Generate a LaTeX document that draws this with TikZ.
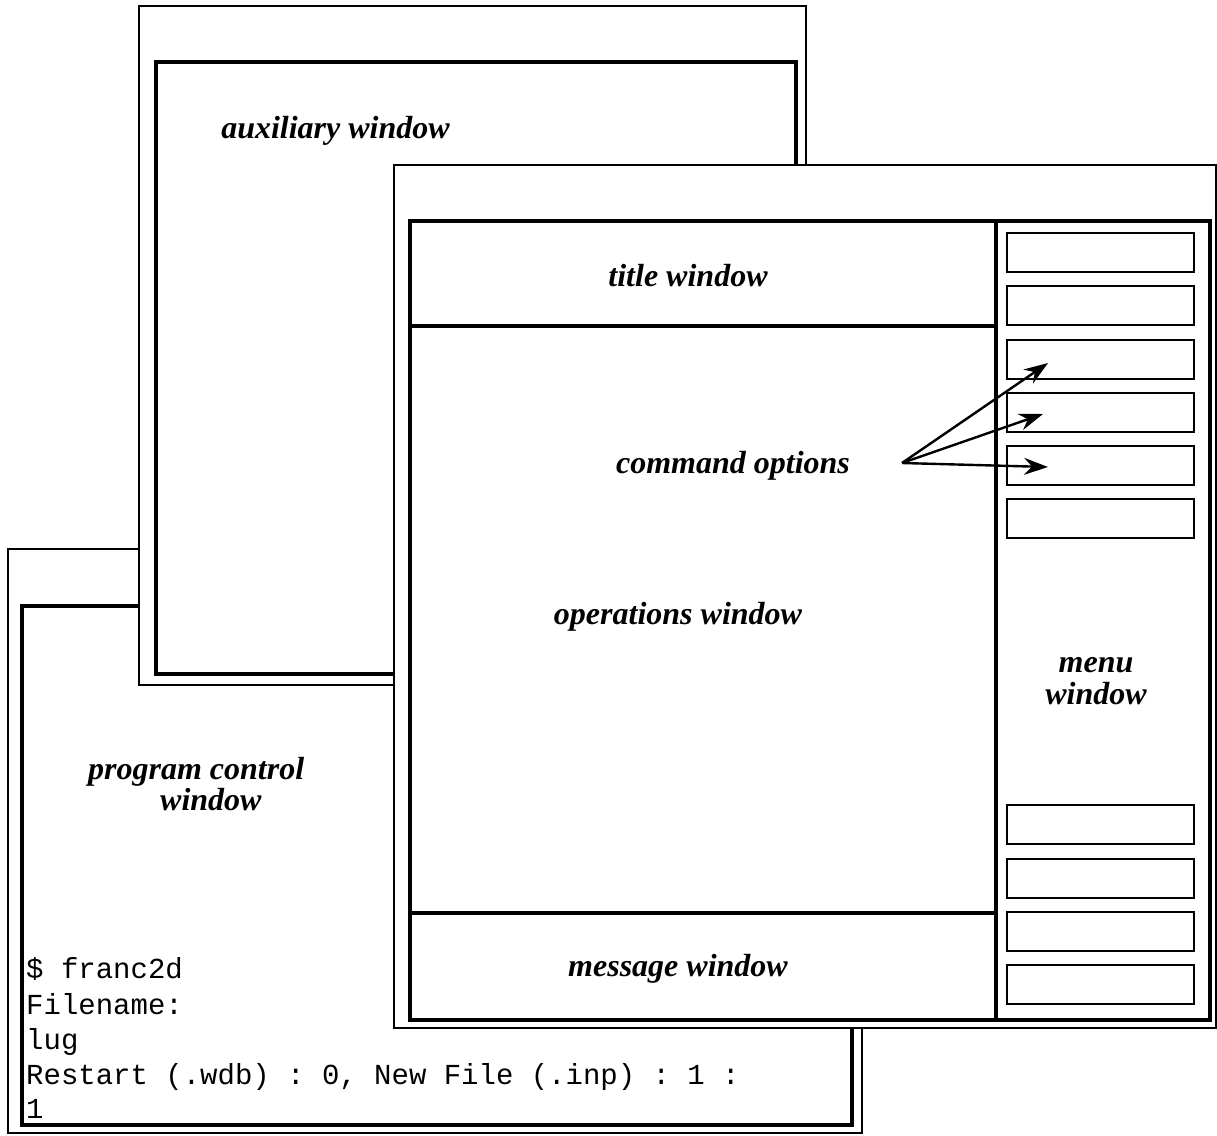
\documentclass[tikz,border=0pt]{standalone}
\usepackage{fontspec}
\setmainfont{Liberation Serif}
\setmonofont{Liberation Mono}
\usetikzlibrary{arrows.meta}
\tikzset{
  winthin/.style={line width=1.7pt},
  winthick/.style={line width=4.2pt},
  lbl/.style={font=\fontsize{32}{31.5}\selectfont\bfseries\itshape, align=center, inner sep=0pt},
  mono/.style={font=\fontsize{29}{35}\selectfont\ttfamily, anchor=base west, inner sep=0pt},
  btn/.style={draw, line width=2.4pt, minimum width=187pt, minimum height=39pt, inner sep=0pt, anchor=north west},
  ptr/.style={line width=2.4pt, -{Stealth[length=24pt,width=17pt,inset=8pt]}}
}
\begin{document}
\begin{tikzpicture}[x=1pt,y=-1pt]
\useasboundingbox (0,0) rectangle (1217,1135);
% program control window
\draw[winthin, fill=white] (8,549) rectangle (862,1133);
\draw[winthick] (22,606) rectangle (852,1125);
\node[lbl, align=left, anchor=west] (pcw) at (88,784) {program control\\\hspace*{72pt}window};
\node[mono] (l1) at (26,978) {\$ franc2d};
\node[mono] (l2) at (26,1014) {Filename:};
\node[mono] (l3) at (26,1049) {lug};
\node[mono] (l4) at (26,1084) {Restart (.wdb) : 0, New File (.inp) : 1 :};
\node[mono] (l5) at (26,1118) {1};
% auxiliary window
\draw[winthin, fill=white] (139,6) rectangle (806,685);
\draw[winthick] (156,62) rectangle (796,674);
\node[lbl] (aux) at (335.5,131) {auxiliary window};
% main window
\draw[winthin, fill=white] (394,165) rectangle (1216,1028);
\draw[winthick] (410,221) rectangle (1210,1020);
\draw[winthick] (996,221) -- (996,1020);
\draw[winthick] (410,326) -- (996,326);
\draw[winthick] (410,913) -- (996,913);
\node[lbl] (title) at (688,276) {title window};
\node[lbl] (cmd) at (733,466) {command options};
\node[lbl] (ops) at (678,617) {operations window};
\node[lbl] (msg) at (678,969) {message window};
\node[lbl] (menu) at (1096,681) {menu\\window};
% menu buttons
\node[btn] (b1) at (1006,232) {};
\node[btn] (b2) at (1006,285) {};
\node[btn] (b3) at (1006,339) {};
\node[btn] (b4) at (1006,392) {};
\node[btn] (b5) at (1006,445) {};
\node[btn] (b6) at (1006,498) {};
\node[btn] (b7) at (1006,804) {};
\node[btn] (b8) at (1006,858) {};
\node[btn] (b9) at (1006,911) {};
\node[btn] (b10) at (1006,964) {};
% arrows
\coordinate (co) at (902,463);
\coordinate (t3) at (1048,363);
\coordinate (t4) at (1043,414);
\coordinate (t5) at (1048,467);
\draw[ptr] (co) -- (t3);
\draw[ptr] (co) -- (t4);
\draw[ptr] (co) -- (t5);
\end{tikzpicture}
\end{document}
